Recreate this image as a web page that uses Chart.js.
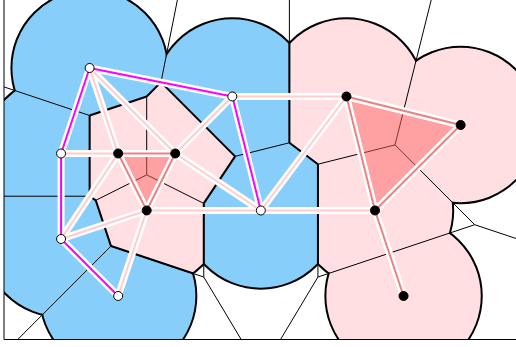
<!DOCTYPE html>
<html><head><meta charset="utf-8">
<script src="https://cdn.jsdelivr.net/npm/chart.js@4/dist/chart.umd.min.js"></script>
<style>html,body{margin:0;padding:0;background:#fff}canvas{display:block}</style>
</head><body>
<canvas id="c" width="516" height="347"></canvas>
<script>
// White (blue-region) points W1..W6
const whiteX = [1, 6, 0, 0, 2, 7];
const whiteY = [8, 7, 5, 2, 0, 3];
// Black (pink-region) points B1..B7
const blackX = [2, 4, 3, 10, 14, 11, 12];
const blackY = [5, 5, 3, 7, 6, 3, 0];
const radius = 2.74;
// Indices into the combined list: 0-5 = W1..W6, 6-12 = B1..B7
const edgesWW = [[0,1],[0,2],[2,3],[3,4],[1,5]];
const edgesBB = [[6,7],[6,8],[7,8],[9,10],[9,11],[10,11],[11,12]];
const edgesWB = [[0,6],[0,7],[2,6],[3,6],[3,8],[4,8],[5,8],[5,7],[1,7],[1,9],[5,9],[5,11]];
const trianglesBBB = [[6,7,8],[9,10,11]];
const xRange = [-2, 15.94];
const yRange = [-1.51, 10.386];

const COL_BLUE = 'rgb(135,206,250)';
const COL_PINK = 'rgb(255,223,225)';

const sites = whiteX.map((x,i)=>({x, y: whiteY[i], c: 0}))
  .concat(blackX.map((x,i)=>({x, y: blackY[i], c: 1})));

function clipPoly(poly, labs, nx, ny, c, jl) {
  const out = [], outL = [];
  const n = poly.length;
  const f = q => nx*q[0] + ny*q[1] - c;
  for (let k = 0; k < n; k++) {
    const a = poly[k], b = poly[(k+1)%n], L = labs[k];
    const fa = f(a), fb = f(b);
    const ain = fa <= 0, bin = fb <= 0;
    if (ain) {
      out.push(a); outL.push(L);
      if (!bin) {
        const t = fa/(fa-fb);
        out.push([a[0]+t*(b[0]-a[0]), a[1]+t*(b[1]-a[1])]); outL.push(jl);
      }
    } else if (bin) {
      const t = fa/(fa-fb);
      out.push([a[0]+t*(b[0]-a[0]), a[1]+t*(b[1]-a[1])]); outL.push(L);
    }
  }
  return [out, outL];
}

const geomPlugin = {
  id: 'geom',
  beforeDatasetsDraw(chart) {
    const ctx = chart.ctx, xs = chart.scales.x, ys = chart.scales.y, ca = chart.chartArea;
    const P = sites.map(s => ({x: xs.getPixelForValue(s.x), y: ys.getPixelForValue(s.y), c: s.c}));
    const rpx = Math.abs(xs.getPixelForValue(radius) - xs.getPixelForValue(0));
    const M = 300;
    const cells = P.map((p, i) => {
      let poly = [[ca.left-M, ca.top-M],[ca.right+M, ca.top-M],[ca.right+M, ca.bottom+M],[ca.left-M, ca.bottom+M]];
      let labs = [-1,-1,-1,-1];
      P.forEach((q, j) => {
        if (j === i) return;
        const nx = q.x-p.x, ny = q.y-p.y;
        const c = (q.x*q.x+q.y*q.y - p.x*p.x - p.y*p.y)/2;
        [poly, labs] = clipPoly(poly, labs, nx, ny, c, j);
      });
      return {poly, labs};
    });
    const polyPath = poly => { ctx.beginPath(); poly.forEach((v,k)=> k?ctx.lineTo(v[0],v[1]):ctx.moveTo(v[0],v[1])); ctx.closePath(); };

    ctx.save();
    ctx.beginPath(); ctx.rect(ca.left, ca.top, ca.right-ca.left, ca.bottom-ca.top); ctx.clip();
    // regions
    cells.forEach((cell, i) => {
      ctx.save(); polyPath(cell.poly); ctx.clip();
      ctx.beginPath(); ctx.arc(P[i].x, P[i].y, rpx, 0, Math.PI*2);
      ctx.fillStyle = P[i].c ? COL_PINK : COL_BLUE; ctx.fill();
      ctx.restore();
    });
    // voronoi edges thin
    ctx.strokeStyle = '#000'; ctx.lineWidth = 1;
    cells.forEach((cell, i) => {
      const n = cell.poly.length;
      for (let k = 0; k < n; k++) {
        const j = cell.labs[k];
        if (j > i) {
          const a = cell.poly[k], b = cell.poly[(k+1)%n];
          ctx.beginPath(); ctx.moveTo(a[0],a[1]); ctx.lineTo(b[0],b[1]); ctx.stroke();
        }
      }
    });
    // chromatic boundary thick inside union
    ctx.save();
    ctx.beginPath();
    P.forEach(p => { ctx.moveTo(p.x+rpx, p.y); ctx.arc(p.x, p.y, rpx, 0, Math.PI*2); });
    ctx.clip();
    ctx.lineWidth = 2;
    cells.forEach((cell, i) => {
      const n = cell.poly.length;
      for (let k = 0; k < n; k++) {
        const j = cell.labs[k];
        if (j > i && P[j].c !== P[i].c) {
          const a = cell.poly[k], b = cell.poly[(k+1)%n];
          ctx.beginPath(); ctx.moveTo(a[0],a[1]); ctx.lineTo(b[0],b[1]); ctx.stroke();
        }
      }
    });
    ctx.restore();
    // union boundary arcs
    cells.forEach((cell, i) => {
      ctx.save(); polyPath(cell.poly); ctx.clip();
      ctx.beginPath(); ctx.arc(P[i].x, P[i].y, rpx, 0, Math.PI*2);
      ctx.lineWidth = 2; ctx.strokeStyle = '#000'; ctx.stroke();
      ctx.restore();
    });
    // triangles
    ctx.fillStyle = 'rgba(255,100,100,0.5)';
    trianglesBBB.forEach(t => {
      ctx.beginPath(); t.forEach((v,k)=> k?ctx.lineTo(P[v].x,P[v].y):ctx.moveTo(P[v].x,P[v].y)); ctx.closePath(); ctx.fill();
    });
    // edges
    const all = edgesWB.map(e=>[e,'rgb(255,205,205)']).concat(edgesBB.map(e=>[e,'rgb(240,128,128)'])).concat(edgesWW.map(e=>[e,'rgb(255,0,255)']));
    ctx.lineCap = 'butt';
    all.forEach(([e]) => {
      ctx.beginPath(); ctx.moveTo(P[e[0]].x,P[e[0]].y); ctx.lineTo(P[e[1]].x,P[e[1]].y);
      ctx.strokeStyle = '#fff'; ctx.lineWidth = 7; ctx.stroke();
    });
    all.forEach(([e, col]) => {
      ctx.beginPath(); ctx.moveTo(P[e[0]].x,P[e[0]].y); ctx.lineTo(P[e[1]].x,P[e[1]].y);
      ctx.strokeStyle = col; ctx.lineWidth = 2; ctx.stroke();
    });
    ctx.restore();
    // axes lines (left and bottom)
    ctx.save();
    ctx.strokeStyle = '#000'; ctx.lineWidth = 1;
    ctx.beginPath(); ctx.moveTo(ca.left, ca.top); ctx.lineTo(ca.left, ca.bottom+0.5); ctx.lineTo(ca.right, ca.bottom+0.5); ctx.stroke();
    ctx.restore();
  }
};

new Chart(document.getElementById('c'), {
  type: 'scatter',
  data: {
    datasets: [
      { data: whiteX.map((x,i)=>({x, y: whiteY[i]})), pointRadius: 4.5, pointBackgroundColor: '#fff', pointBorderColor: '#000', pointBorderWidth: 1 },
      { data: blackX.map((x,i)=>({x, y: blackY[i]})), pointRadius: 4.5, pointBackgroundColor: '#000', pointBorderColor: '#000', pointBorderWidth: 1 }
    ]
  },
  options: {
    responsive: false, animation: false, devicePixelRatio: 1,
    layout: { autoPadding: false, padding: { left: 4, top: 0, right: 0, bottom: 8 } },
    scales: {
      x: { type: 'linear', min: xRange[0], max: xRange[1], display: false },
      y: { type: 'linear', min: yRange[0], max: yRange[1], display: false }
    },
    plugins: { legend: { display: false }, tooltip: { enabled: false } },
    events: []
  },
  plugins: [geomPlugin]
});
</script>
</body></html>
